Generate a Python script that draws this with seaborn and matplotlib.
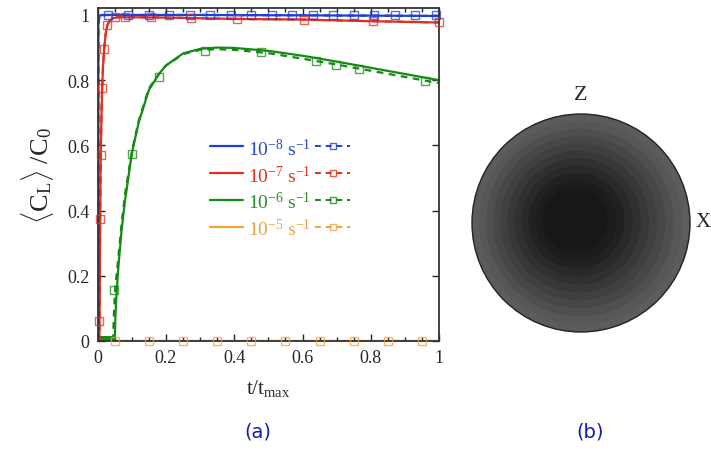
import numpy as np
import seaborn as sns
import matplotlib.pyplot as plt
from matplotlib.patches import Circle
from matplotlib.lines import Line2D

sns.set_style('ticks')
plt.rcParams['font.family'] = ['Liberation Serif', 'DejaVu Serif']
plt.rcParams['mathtext.fontset'] = 'custom'
plt.rcParams['mathtext.rm'] = 'Liberation Serif'
plt.rcParams['mathtext.it'] = 'Liberation Serif:italic'

# --- dados (a) ---
rate_labels = [r'$10^{-8}\ \mathrm{s}^{-1}$', r'$10^{-7}\ \mathrm{s}^{-1}$',
               r'$10^{-6}\ \mathrm{s}^{-1}$', r'$10^{-5}\ \mathrm{s}^{-1}$']
line_colors = ['#1f3fd8', '#e0301e', '#138a13', '#f3a23a']
text_colors = ['#2a48d0', '#d8341f', '#2a8a2a', '#f0a050']
tick_vals = [0, 0.2, 0.4, 0.6, 0.8, 1.0]
tick_labels = ['0', '0.2', '0.4', '0.6', '0.8', '1']
minor_x = [0.05, 0.1, 0.15, 0.25, 0.3, 0.35, 0.45, 0.5, 0.55, 0.65, 0.7,
           0.75, 0.85, 0.9, 0.95]

# 1e-8 s^-1
blue_x = [0.0, 0.002, 0.002, 0.005, 0.01, 0.3, 0.6, 1.0]
blue_y = [0.0, 0.0, 0.97, 0.997, 1.0, 1.0, 0.999, 0.997]
blue_mx = [0.03, 0.09, 0.15, 0.21, 0.27, 0.33, 0.39, 0.45, 0.51, 0.57,
           0.63, 0.69, 0.75, 0.81, 0.87, 0.93, 0.99]
blue_my = [1.0] * len(blue_mx)

# 1e-7 s^-1
red_x = [0.0, 0.005, 0.006, 0.007, 0.009, 0.011, 0.013, 0.016, 0.019, 0.023,
         0.028, 0.035, 0.045, 0.06, 0.1, 0.2, 0.4, 0.6, 0.8, 1.0]
red_y = [0.0, 0.0, 0.15, 0.35, 0.57, 0.69, 0.775, 0.85, 0.895, 0.94,
         0.968, 0.982, 0.99, 0.993, 0.993, 0.992, 0.988, 0.986, 0.981, 0.977]
red_mx = [0.005, 0.008, 0.009, 0.013, 0.019, 0.028, 0.05, 0.08, 0.155, 0.272,
          0.407, 0.605, 0.807, 1.0]
red_my = [0.062, 0.374, 0.57, 0.776, 0.896, 0.97, 0.993, 0.993, 0.993, 0.99,
          0.988, 0.986, 0.981, 0.977]

# 1e-6 s^-1
green_x = [0.0, 0.05, 0.052, 0.055, 0.06, 0.07, 0.08, 0.1, 0.12, 0.15, 0.18,
           0.2, 0.25, 0.3, 0.35, 0.4, 0.5, 0.6, 0.7, 0.8, 0.9, 1.0]
green_y = [0.0, 0.0, 0.08, 0.14, 0.22, 0.34, 0.43, 0.575, 0.67, 0.77, 0.82,
           0.845, 0.882, 0.896, 0.9, 0.899, 0.89, 0.875, 0.857, 0.838, 0.819, 0.8]
green_dx = [0.045, 0.048, 0.052, 0.06, 0.07, 0.08, 0.1, 0.12, 0.15, 0.18,
            0.2, 0.25, 0.3, 0.35, 0.4, 0.5, 0.6, 0.7, 0.8, 0.9, 1.0]
green_dy = [0.0, 0.1, 0.17, 0.25, 0.36, 0.45, 0.58, 0.675, 0.775, 0.82,
            0.845, 0.88, 0.893, 0.895, 0.893, 0.883, 0.866, 0.848, 0.829, 0.81, 0.791]
green_mx = [0.049, 0.1, 0.18, 0.314, 0.477, 0.639, 0.698, 0.766, 0.958]
green_my = [0.157, 0.574, 0.809, 0.89, 0.886, 0.858, 0.848, 0.834, 0.797]

# 1e-5 s^-1
orange_x = [0.0, 1.0]
orange_y = [0.0, 0.0]
orange_mx = [0.05, 0.15, 0.25, 0.35, 0.45, 0.55, 0.65, 0.75, 0.85, 0.95]
orange_my = [0.0] * len(orange_mx)

# --- figura (b): niveis de cinza por raio (estimados) ---
disk_r = [1.0, 0.93, 0.86, 0.79, 0.72, 0.65, 0.58, 0.51, 0.44, 0.37, 0.3]
disk_gray = [0.36, 0.34, 0.31, 0.28, 0.25, 0.22, 0.19, 0.16, 0.13, 0.11, 0.09]

fig = plt.figure(figsize=(7.11, 4.56), dpi=100)
ax = fig.add_axes([0.1374, 0.25, 0.4801, 0.7303])

series = [
    (blue_x, blue_y, blue_x, blue_y, blue_mx, blue_my),
    (red_x, red_y, red_x, red_y, red_mx, red_my),
    (green_x, green_y, green_dx, green_dy, green_mx, green_my),
    (orange_x, orange_y, orange_x, orange_y, orange_mx, orange_my),
]

# faixa verde grossa em zero
sns.lineplot(x=[0.0, 0.05], y=[0.005, 0.005], ax=ax, color=line_colors[2],
             linewidth=5, solid_capstyle='butt')

for (sx, sy, dx, dy, mx, my), c in zip(series[::-1], line_colors[::-1]):
    sns.lineplot(x=sx, y=sy, ax=ax, color=c, linewidth=1.6, sort=False,
                 estimator=None)
    sns.lineplot(x=dx, y=dy, ax=ax, color=c, linewidth=1.6, linestyle=(0, (3, 2.5)),
                 sort=False, estimator=None)
    ax.plot(mx, my, linestyle='none', marker='s', markersize=5.5,
            markerfacecolor='none', markeredgecolor=c, markeredgewidth=1.0,
            alpha=0.75, clip_on=False, zorder=5)

ax.set_xlim(0, 1)
ax.set_ylim(0, 1.0215)
ax.set_xticks(tick_vals, tick_labels)
ax.set_xticks(minor_x, minor=True)
ax.set_yticks(tick_vals, tick_labels)
ax.tick_params(which='both', direction='in', top=True, right=True,
               labelsize=13, color='#222222', pad=6)
ax.tick_params(which='major', length=5, width=1)
ax.tick_params(which='minor', length=3, width=1)
for s in ax.spines.values():
    s.set_color('#333333')
    s.set_linewidth(1.3)

ax.set_xlabel(r'$\mathrm{t/t}_\mathrm{max}$', fontsize=15, labelpad=8)
ax.set_ylabel(r'$\langle\mathrm{C}_\mathrm{L}\rangle\ /\mathrm{C}_0$', fontsize=19,
              labelpad=8)

# legenda manual
leg_y = [0.597, 0.514, 0.433, 0.351]
for yy, lab, c, tc in zip(leg_y, rate_labels, line_colors, text_colors):
    ax.add_line(Line2D([0.329, 0.426], [yy, yy], color=c, linewidth=1.6))
    ax.text(0.44, yy - 0.005, lab, color=tc, fontsize=14, va='center', ha='left')
    ax.add_line(Line2D([0.636, 0.739], [yy, yy], color=c, linewidth=1.4,
                       linestyle=(0, (3, 2.5))))
    ax.plot([0.688], [yy], linestyle='none', marker='s', markersize=5,
            markerfacecolor='none', markeredgecolor=c, alpha=0.8)

fig.text(0.362, 0.04, '(a)', fontsize=14, color='#1a1aa8', ha='center',
         family='DejaVu Sans')
fig.text(0.83, 0.04, '(b)', fontsize=14, color='#1a1aa8', ha='center',
         family='DejaVu Sans')

# painel (b)
ax2 = fig.add_axes([0.64, 0.0, 0.36, 1.0])
ax2.set_xlim(0.64 * 711, 711)
ax2.set_ylim(456, 0)
ax2.set_aspect('equal')
ax2.axis('off')
cx, cy, R = 581, 224, 109
ax2.add_patch(Circle((cx, cy), R, facecolor=str(disk_gray[0]),
                     edgecolor='#222222', linewidth=1.0))
for r, g in zip(disk_r[1:], disk_gray[1:]):
    ax2.add_patch(Circle((cx - 8 * (1 - r), cy - 4 * (1 - r)), R * r,
                         facecolor=str(g), edgecolor='none'))
ax2.text(581, 96, 'Z', fontsize=16, ha='center', va='center')
ax2.text(696, 223, 'X', fontsize=15, ha='left', va='center')

fig.savefig('out.png', dpi=100)
